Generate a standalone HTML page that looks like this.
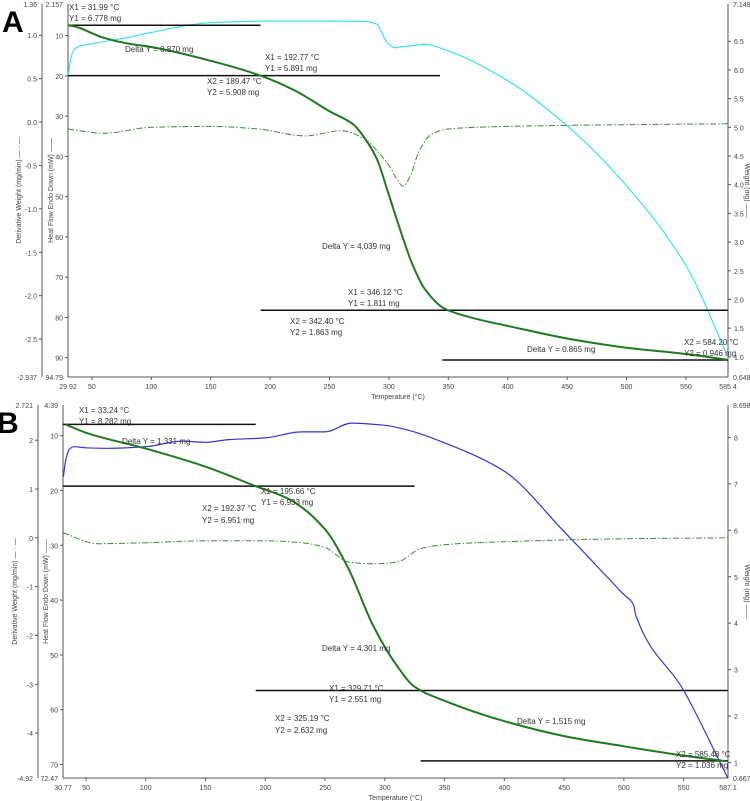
<!DOCTYPE html>
<html><head><meta charset="utf-8"><style>
body{margin:0;background:#fff}
svg{display:block;font-family:"Liberation Sans",sans-serif}
.t{font-size:8px;fill:#333}
.k{font-size:7px;fill:#444}
</style></head><body>
<svg id="c" width="750" height="801" viewBox="0 0 750 801"></svg>
<script>
// Panel A data
const aTemp=[30,35,40,50,60,80,100,150,192,220,250,270,280,290,300,310,320,330,346,370,400,450,500,550,584];
const aWeight=[6.78,6.76,6.73,6.64,6.56,6.46,6.40,6.16,5.90,5.65,5.28,5.05,4.80,4.44,3.82,3.18,2.60,2.19,1.85,1.68,1.54,1.32,1.16,1.05,0.95];
const aHeatT=[30,32,35,40,50,80,100,150,200,250,280,290,298,305,310,320,330,350,400,450,500,550,585];
const aHeat=[20,16,13.5,12.6,12,10.5,9.2,6.8,6.4,6.4,6.5,7.2,11.5,13,12.8,12.5,12.2,13.8,21.2,32.4,47.3,67.1,89.5];
const aDerT=[30,40,60,100,150,190,230,260,280,290,300,306,312,318,325,335,350,400,500,585];
const aDer=[-0.08,-0.1,-0.13,-0.06,-0.05,-0.08,-0.16,-0.1,-0.2,-0.33,-0.5,-0.64,-0.74,-0.62,-0.35,-0.15,-0.08,-0.05,-0.03,-0.02];
// Panel B data
const bTemp=[33,50,100,150,192,220,250,270,290,310,325,350,400,450,500,550,585];
const bWeight=[8.28,8.1,7.76,7.37,6.95,6.67,6.02,5.15,3.96,3.09,2.63,2.33,1.89,1.57,1.35,1.15,1.03];
const bHeatT=[31,33,36,40,50,70,100,130,150,170,200,230,250,272,300,320,350,400,450,500,508,510,550,587];
const bHeat=[17.5,14.5,12.5,12,12.2,12.3,12,11,11.2,10.7,10.4,9.3,9.3,7.7,8.1,9,11.3,16.5,27.5,39,40.8,42.8,56.5,72.5];
const bDerT=[31,60,100,150,200,230,250,270,290,310,330,350,400,500,587];
const bDer=[0.1,-0.12,-0.1,-0.06,-0.06,-0.1,-0.2,-0.5,-0.53,-0.5,-0.22,-0.14,-0.08,-0.02,0.0];
// Axis ticks
const aXTicks=[50,100,150,200,250,300,350,400,450,500,550];
const bXTicks=[50,100,150,200,250,300,350,400,450,500,550];
const aHeatTicks=[10,20,30,40,50,60,70,80,90];
const bHeatTicks=[10,20,30,40,50,60,70];
const aDerTicks=[1.0,0.5,0.0,-0.5,-1.0,-1.5,-2.0,-2.5];
const bDerTicks=[2,1,0,-1,-2,-3,-4];
const aWTicks=[1.0,1.5,2.0,2.5,3.0,3.5,4.0,4.5,5.0,5.5,6.0,6.5];
const bWTicks=[1,2,3,4,5,6,7,8];

const svg=document.getElementById('c');
const NS='http://www.w3.org/2000/svg';
function mk(tag,attrs,parent){const e=document.createElementNS(NS,tag);for(const k in attrs)e.setAttribute(k,attrs[k]);(parent||svg).appendChild(e);return e;}
function txt(x,y,s,cls,anchor,parent){const e=mk('text',{x:x,y:y,class:cls||'t','text-anchor':anchor||'start'},parent);e.textContent=s;return e;}
function lin(d0,d1,r0,r1){return v=>r0+(v-d0)*(r1-r0)/(d1-d0);}
function path(xs,ys,fx,fy){
  const X=xs.map(fx),Y=ys.map(fy),n=X.length;
  const d=[],m=[];
  for(let i=0;i<n-1;i++)d.push((Y[i+1]-Y[i])/(X[i+1]-X[i]));
  m[0]=d[0];m[n-1]=d[n-2];
  for(let i=1;i<n-1;i++){
    if(d[i-1]*d[i]<=0)m[i]=0;
    else{const h0=X[i]-X[i-1],h1=X[i+1]-X[i];const w1=2*h1+h0,w2=h1+2*h0;m[i]=(w1+w2)/(w1/d[i-1]+w2/d[i]);}
  }
  let s='M'+X[0].toFixed(1)+','+Y[0].toFixed(1);
  for(let i=0;i<n-1;i++){
    const h=(X[i+1]-X[i])/3;
    s+=`C${(X[i]+h).toFixed(1)},${(Y[i]+m[i]*h).toFixed(1)} ${(X[i+1]-h).toFixed(1)},${(Y[i+1]-m[i+1]*h).toFixed(1)} ${X[i+1].toFixed(1)},${Y[i+1].toFixed(1)}`;
  }
  return s;
}

function panel(P){
  const g=mk('g',{});
  
  
  const fx=lin(P.xmin,P.xmax,P.L,P.R);
  const fh=lin(P.hmin,P.hmax,P.T,P.B);
  const fd=lin(P.dmax,P.dmin,P.T,P.B);
  const fw=lin(P.wmax,P.wmin,P.T,P.B);
  const ax=mk('g',{stroke:'#555','stroke-width':1},g);
  
  
  mk('line',{x1:P.L,y1:P.T,x2:P.L,y2:P.B},ax);
  mk('line',{x1:P.L,y1:P.B,x2:P.R,y2:P.B},ax);
  mk('line',{x1:P.D,y1:P.T,x2:P.D,y2:P.B},ax);
  mk('line',{x1:P.R,y1:P.T,x2:P.R,y2:P.B},ax);
  P.xt.forEach(v=>{mk('line',{x1:fx(v),y1:P.B,x2:fx(v),y2:P.B+3},ax);txt(fx(v),P.B+12,String(v),'k','middle',g);});
  txt(P.L,P.B+12,String(P.xmin),'k','middle',g);txt(P.R,P.B+12,String(P.xmax),'k','middle',g);
  const xl=txt((P.L+P.R)/2,P.B+22,'Temperature (°C)','k','middle',g);
  
  
  P.ht.forEach(v=>{mk('line',{x1:P.L-3,y1:fh(v),x2:P.L,y2:fh(v)},ax);txt(P.L-5,fh(v)+3,String(v),'k','end',g);});
  txt(P.L-5,P.T+3,String(P.hmin),'k','end',g);txt(P.L-5,P.B+3,String(P.hmax),'k','end',g);
  P.dt.forEach(v=>{mk('line',{x1:P.D-3,y1:fd(v),x2:P.D,y2:fd(v)},ax);txt(P.D-5,fd(v)+3,P.dfmt(v),'k','end',g);});
  txt(P.D-5,P.T+3,String(P.dmax),'k','end',g);txt(P.D-5,P.B+3,String(P.dmin),'k','end',g);
  P.wt.forEach(v=>{mk('line',{x1:P.R,y1:fw(v),x2:P.R+3,y2:fw(v)},ax);txt(P.R+6,fw(v)+3,P.wfmt(v),'k','start',g);});
  txt(P.R+5,P.T+3,String(P.wmax),'k','start',g);txt(P.R+5,P.B+3,String(P.wmin),'k','start',g);
  const my=(P.T+P.B)/2;
  let t1=txt(0,0,'Derivative Weight (mg/min) — · —','k','middle',g);t1.setAttribute('transform',`translate(${P.D-21},${my}) rotate(-90)`);
  
  
  let t2=txt(0,0,'Heat Flow Endo Down (mW) ——','k','middle',g);t2.setAttribute('transform',`translate(${P.L-15},${my}) rotate(-90)`);
  
  
  let t3=txt(0,0,'Weight (mg)  ——','k','middle',g);t3.setAttribute('transform',`translate(${P.R+17},${my}) rotate(90)`);
  
  
  const hp=mk('path',{d:path(P.hT,P.h,fx,fh),fill:'none',stroke:P.hc,'stroke-width':1.2},g);
  
  
  const dp=mk('path',{d:path(P.dT,P.d,fx,fd),fill:'none',stroke:'#3a8a3a','stroke-width':1,'stroke-dasharray':'6,2,1.5,2'},g);
  
  
  P.hl.forEach(l=>{const e=mk('line',{x1:fx(l[0]),x2:fx(l[1]),y1:fw(l[2]),y2:fw(l[2]),stroke:'#111','stroke-width':1.5},g);
    
    });
  const wp=mk('path',{d:path(P.wT,P.w,fx,fw),fill:'none',stroke:'#1f7a1f','stroke-width':2},g);
  
  
  P.labels.forEach(a=>{const e=txt(a[0],a[1],a[2],'t','start',g);
    
    });
  const big=txt(P.L-66,P.T+28,P.letter,'t','start',g);big.setAttribute('style','font-size:30px;font-weight:bold;fill:#000');
  
  
}

panel({name:'panel-a',letter:'A',L:68,R:728,T:4,B:377,D:42,xmin:29.92,xmax:585.4,hmin:2.157,hmax:94.79,dmax:1.36,dmin:-2.937,wmax:7.149,wmin:0.6487,
 xt:aXTicks,ht:aHeatTicks,dt:aDerTicks,wt:aWTicks,dfmt:v=>v.toFixed(1),wfmt:v=>v.toFixed(1),
 hT:aHeatT,h:aHeat,hc:'#40e0e8',dT:aDerT,d:aDer,wT:aTemp,w:aWeight,
 hl:[[29.92,192,6.778],[29.92,343,5.9],[192,585.4,1.811],[345,585.4,0.946]],
 labels:[[69,10,'X1 = 31.99 °C'],[69,21,'Y1 = 6.778 mg'],[125,52,'Delta Y = 0.870 mg'],[265,60,'X1 = 192.77 °C'],[265,71,'Y1 = 5.891 mg'],[207,84,'X2 = 189.47 °C'],[207,95,'Y2 = 5.908 mg'],[322,249,'Delta Y = 4.039 mg'],[348,295,'X1 = 346.12 °C'],[348,306,'Y1 = 1.811 mg'],[290,324,'X2 = 342.40 °C'],[290,335,'Y2 = 1.863 mg'],[527,352,'Delta Y = 0.865 mg'],[684,345,'X2 = 584.20 °C'],[684,356,'Y2 = 0.946 mg']]});

panel({name:'panel-b',letter:'B',L:63,R:728,T:405,B:778,D:38,xmin:30.77,xmax:587.1,hmin:4.39,hmax:72.47,dmax:2.721,dmin:-4.92,wmax:8.698,wmin:0.6672,
 xt:bXTicks,ht:bHeatTicks,dt:bDerTicks,wt:bWTicks,dfmt:v=>String(v),wfmt:v=>String(v),
 hT:bHeatT,h:bHeat,hc:'#3535d0',dT:bDerT,d:bDer,wT:bTemp,w:bWeight,
 hl:[[30.77,192,8.282],[30.77,325,6.951],[192,587.1,2.551],[330,587.1,1.036]],
 labels:[[79,413,'X1 = 33.24 °C'],[79,424,'Y1 = 8.282 mg'],[122,444,'Delta Y = 1.331 mg'],[261,494,'X1 = 195.66 °C'],[261,505,'Y1 = 6.933 mg'],[202,511,'X2 = 192.37 °C'],[202,523,'Y2 = 6.951 mg'],[322,651,'Delta Y = 4.301 mg'],[329,691,'X1 = 329.71 °C'],[329,702,'Y1 = 2.551 mg'],[275,721,'X2 = 325.19 °C'],[275,733,'Y2 = 2.632 mg'],[517,724,'Delta Y = 1.515 mg'],[676,757,'X2 = 585.48 °C'],[676,768,'Y2 = 1.036 mg']]});
</script>
</body></html>
